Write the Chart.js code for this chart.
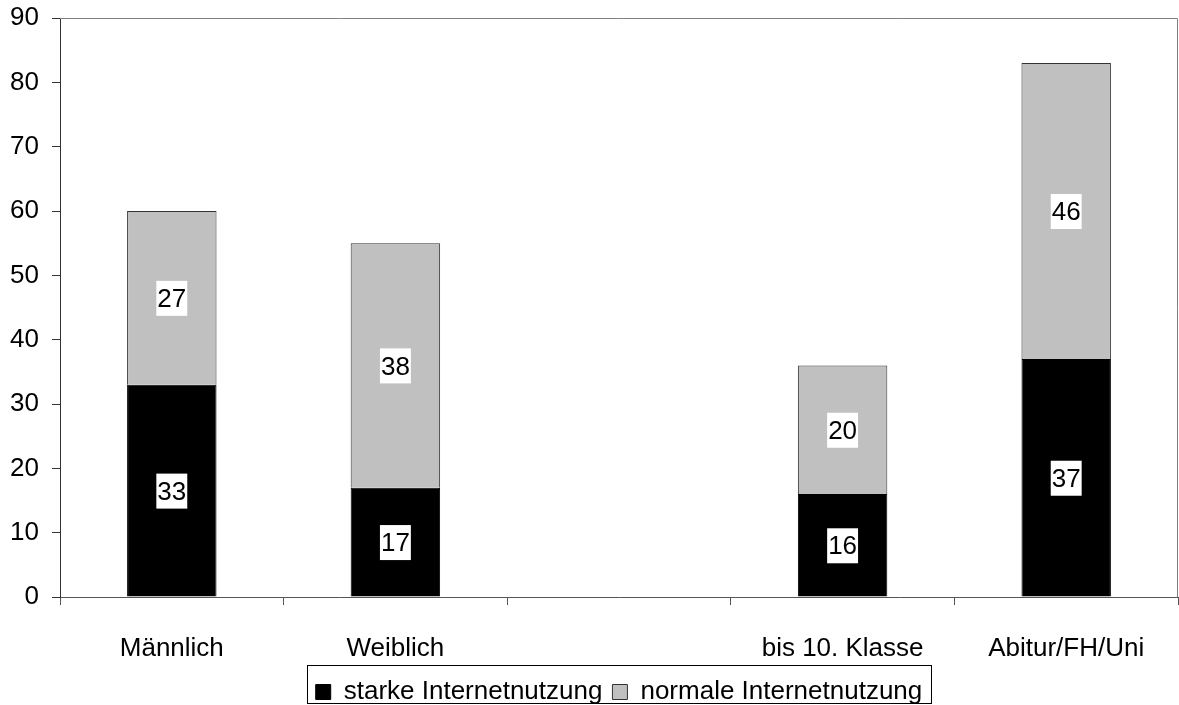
<!DOCTYPE html>
<html>
<head>
<meta charset="utf-8">
<script src="https://cdn.jsdelivr.net/npm/chart.js@4/dist/chart.umd.min.js"></script>
<style>
  html, body { margin: 0; padding: 0; background: #fff; }
  #wrap { width: 1179px; height: 705px; }
</style>
</head>
<body>
<div id="wrap"><canvas id="chart"></canvas></div>
<script>
// Kategorien (leere Spalte trennt Geschlecht und Bildung)
const categories = ['Männlich', 'Weiblich', '', 'bis 10. Klasse', 'Abitur/FH/Uni'];
const starkeNutzung = [33, 17, null, 16, 37];
const normaleNutzung = [27, 38, null, 20, 46];
const yTicks = [0, 10, 20, 30, 40, 50, 60, 70, 80, 90];

const FONT = "'Liberation Sans', Arial, sans-serif";
const FS = 26;
Chart.defaults.font.family = FONT;
Chart.defaults.color = '#000';

// Werte in weissen Kaestchen mitten im Balken
const valueLabels = {
    id: 'valueLabels',
    afterDatasetsDraw(chart) {
        const ctx = chart.ctx;
        ctx.save();
        ctx.font = FS + 'px ' + FONT;
        ctx.textAlign = 'center';
        ctx.textBaseline = 'middle';
        chart.data.datasets.forEach(function(ds, i) {
            chart.getDatasetMeta(i).data.forEach(function(bar, j) {
                const v = ds.data[j];
                if (v == null) return;
                const p = bar.getProps(['x', 'y', 'base'], true);
                const cy = (p.y + p.base) / 2;
                const w = ctx.measureText(String(v)).width + 2;
                ctx.fillStyle = '#fff';
                ctx.fillRect(p.x - w / 2, cy - 17, w, 35);
                ctx.fillStyle = '#000';
                ctx.fillText(String(v), p.x, cy + 2);
            });
        });
        ctx.restore();
    }
};

// Rahmen oben/rechts und Kasten um die Legende
const frame = {
    id: 'frame',
    afterLayout(chart) {
        // Legende unter dem Plotbereich zentrieren und etwas nach unten ruecken
        const lg = chart.legend;
        const shift = ((chart.chartArea.left + chart.chartArea.right) - (lg.left + lg.right)) / 2;
        lg.left += shift;
        lg.right += shift;
        const pad = lg.options.labels.padding;
        const dy = (chart.height - 13) - (lg.top + pad + FS / 2);
        lg.top += dy;
        lg.bottom += dy;
    },
    afterDraw(chart) {
        const ctx = chart.ctx;
        const a = chart.chartArea;
        ctx.save();
        ctx.strokeStyle = '#808080';
        ctx.lineWidth = 1;
        ctx.beginPath();
        ctx.moveTo(a.left, a.top + 0.5);
        ctx.lineTo(a.right - 0.5, a.top + 0.5);
        ctx.lineTo(a.right - 0.5, a.bottom);
        ctx.stroke();

        const boxes = chart.legend.legendHitBoxes;
        if (boxes && boxes.length) {
            let l = Infinity, r = -Infinity;
            boxes.forEach(function(b) {
                l = Math.min(l, b.left);
                r = Math.max(r, b.left + b.width);
            });
            const cy = chart.height - 13;
            ctx.strokeStyle = '#000';
            ctx.strokeRect(Math.round(l - 9) + 0.5, Math.round(cy - 27) + 0.5,
                Math.round(r - l + 17), chart.height - Math.round(cy - 27) - 2);
        }
        ctx.restore();
    }
};

new Chart(document.getElementById('chart'), {
    type: 'bar',
    data: {
        labels: categories,
        datasets: [{
            label: 'starke Internetnutzung',
            data: starkeNutzung,
            backgroundColor: '#000000',
            borderColor: '#000000',
            borderWidth: 1
        }, {
            label: 'normale Internetnutzung',
            data: normaleNutzung,
            backgroundColor: '#C0C0C0',
            borderColor: '#333333',
            borderWidth: 1
        }]
    },
    options: {
        responsive: true,
        maintainAspectRatio: false,
        animation: false,
        layout: { padding: { top: 18, right: 1, left: 0, bottom: 0 } },
        datasets: { bar: { categoryPercentage: 1, barPercentage: 0.4 } },
        plugins: {
            tooltip: { enabled: false },
            legend: {
                position: 'bottom',
                labels: {
                    font: { size: FS },
                    boxWidth: 15,
                    boxHeight: 15,
                    padding: 10,
                    color: '#000'
                }
            }
        },
        scales: {
            x: {
                stacked: true,
                grid: { offset: true, drawOnChartArea: false, drawTicks: true, tickLength: 8, color: '#555' },
                border: { color: '#555' },
                ticks: { font: { size: FS }, padding: 28, maxRotation: 0, autoSkip: false },
                afterFit(scale) { scale.height = 62; }
            },
            y: {
                stacked: true,
                min: 0,
                max: 90,
                afterBuildTicks(scale) { scale.ticks = yTicks.map(v => ({ value: v })); },
                grid: { drawOnChartArea: false, drawTicks: true, tickLength: 8, color: '#333' },
                border: { color: '#333' },
                ticks: { font: { size: FS }, padding: 13 },
                afterFit(scale) {
                    scale.width = 60;
                    scale.paddingTop = 0;
                    scale.paddingBottom = 0;
                }
            }
        }
    },
    plugins: [valueLabels, frame]
});
</script>
</body>
</html>
